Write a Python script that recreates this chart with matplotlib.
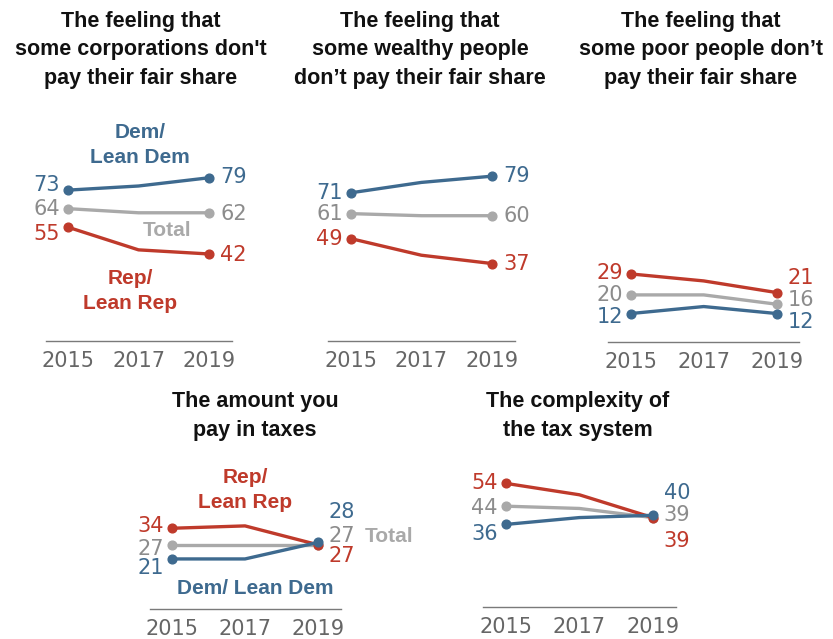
import matplotlib
matplotlib.use("Agg")
import matplotlib.pyplot as plt

W, H = 833, 639

years = [2015, 2017, 2019]

titles = [
    "The feeling that\nsome corporations don't\npay their fair share",
    "The feeling that\nsome wealthy people\ndon\u2019t pay their fair share",
    "The feeling that\nsome poor people don\u2019t\npay their fair share",
    "The amount you\npay in taxes",
    "The complexity of\nthe tax system",
]

total = [
    [64, 62, 62],
    [61, 60, 60],
    [20, 20, 16],
    [27, 27, 27],
    [44, 43, 39],
]
rep = [
    [55, 44, 42],
    [49, 41, 37],
    [29, 26, 21],
    [34, 35, 27],
    [54, 49, 39],
]
dem = [
    [73, 75, 79],
    [71, 76, 79],
    [12, 15, 12],
    [21, 21, 28],
    [36, 39, 40],
]

DEM = "#3e6a8f"
REP = "#bf3a2b"
TOT = "#a9a9a9"
TOT_TXT = "#8c8c8c"
AX = "#7a7a7a"

TITLE_FONT = ["Liberation Sans", "DejaVu Sans"]

# panel layout in pixels: axis-line left/right, axis-line y, top y,
# x of 2015 and 2019 dots, px per unit on the y scale
panels = [
    dict(l=46, r=232, base=340.5, top=110, x0=68, x1=209, s=2.06, tx=141, ty=50),
    dict(l=328, r=515, base=340.5, top=110, x0=350.7, x1=492, s=2.08, tx=420, ty=50),
    dict(l=608, r=799, base=341.5, top=110, x0=630.7, x1=776.7, s=2.33, tx=701, ty=50),
    dict(l=150, r=341, base=608.5, top=445, x0=172, x1=318, s=2.36, tx=255, ty=416),
    dict(l=483, r=676, base=606.5, top=445, x0=506, x1=652.7, s=2.28, tx=578, ty=416),
]

# vertical nudges (pixels) for the value labels: (dem, total, rep)
left_dy = [(5, 0, -7), (0, 0, 0), (-3, 0, 1), (-9, -4, 2), (-10, -2, 0)]
right_dy = [(1, -1, -1), (0, 0, 0), (-8, 4, 15), (30, 9, -11), (22, 3, -23)]

fig = plt.figure(figsize=(W / 100, H / 100), dpi=100)
fig.patch.set_facecolor("white")


def px(x, y):
    return x / W, 1 - y / H


for i, p in enumerate(panels):
    ax = fig.add_axes([p["l"] / W, 1 - p["base"] / H,
                       (p["r"] - p["l"]) / W, (p["base"] - p["top"]) / H])
    ppy = (p["x1"] - p["x0"]) / 4
    ax.set_xlim(2015 - (p["x0"] - p["l"]) / ppy, 2019 + (p["r"] - p["x1"]) / ppy)
    ax.set_ylim(0, (p["base"] - p["top"]) / p["s"])

    for vals, col in [(total[i], TOT), (rep[i], REP), (dem[i], DEM)]:
        ax.plot(years, vals, color=col, lw=2.4, marker="o", ms=6.3,
                markevery=[0, 2], solid_capstyle="round", clip_on=False)

    for vals, col, dl, dr in [(dem[i], DEM, left_dy[i][0], right_dy[i][0]),
                              (total[i], TOT_TXT, left_dy[i][1], right_dy[i][1]),
                              (rep[i], REP, left_dy[i][2], right_dy[i][2])]:
        ax.annotate(str(vals[0]), (years[0], vals[0]), xytext=(-8, dl),
                    textcoords="offset pixels", ha="right", va="center",
                    color=col, fontsize=15, annotation_clip=False)
        ax.annotate(str(vals[-1]), (years[-1], vals[-1]), xytext=(11, dr),
                    textcoords="offset pixels", ha="left", va="center",
                    color=col, fontsize=15, annotation_clip=False)

    for side in ["top", "left", "right"]:
        ax.spines[side].set_visible(False)
    ax.spines["bottom"].set_color(AX)
    ax.spines["bottom"].set_linewidth(1)
    ax.set_yticks([])
    ax.set_xticks(years)
    ax.set_xticklabels([str(y) for y in years])
    ax.tick_params(axis="x", length=0, pad=7.5, labelsize=15, labelcolor="#666666")
    ax.patch.set_alpha(0)

    fig.text(*px(p["tx"], p["ty"]), titles[i], ha="center", va="center",
             fontsize=15.5, fontweight="bold", family=TITLE_FONT,
             linespacing=1.48, color="#111111")

# series labels
lab = dict(fontsize=15, fontweight="bold", family=TITLE_FONT, va="center")
fig.text(*px(140, 145), "Dem/\nLean Dem", color=DEM, ha="center", linespacing=1.4, **lab)
fig.text(*px(167, 231), "Total", color=TOT, ha="center", **lab)
fig.text(*px(130, 291), "Rep/\nLean Rep", color=REP, ha="center", linespacing=1.4, **lab)
fig.text(*px(245, 490), "Rep/\nLean Rep", color=REP, ha="center", linespacing=1.4, **lab)
fig.text(*px(365, 537), "Total", color=TOT, ha="left", **lab)
fig.text(*px(255, 588), "Dem/ Lean Dem", color=DEM, ha="center", **lab)

fig.savefig("out.png", dpi=100, facecolor="white")
